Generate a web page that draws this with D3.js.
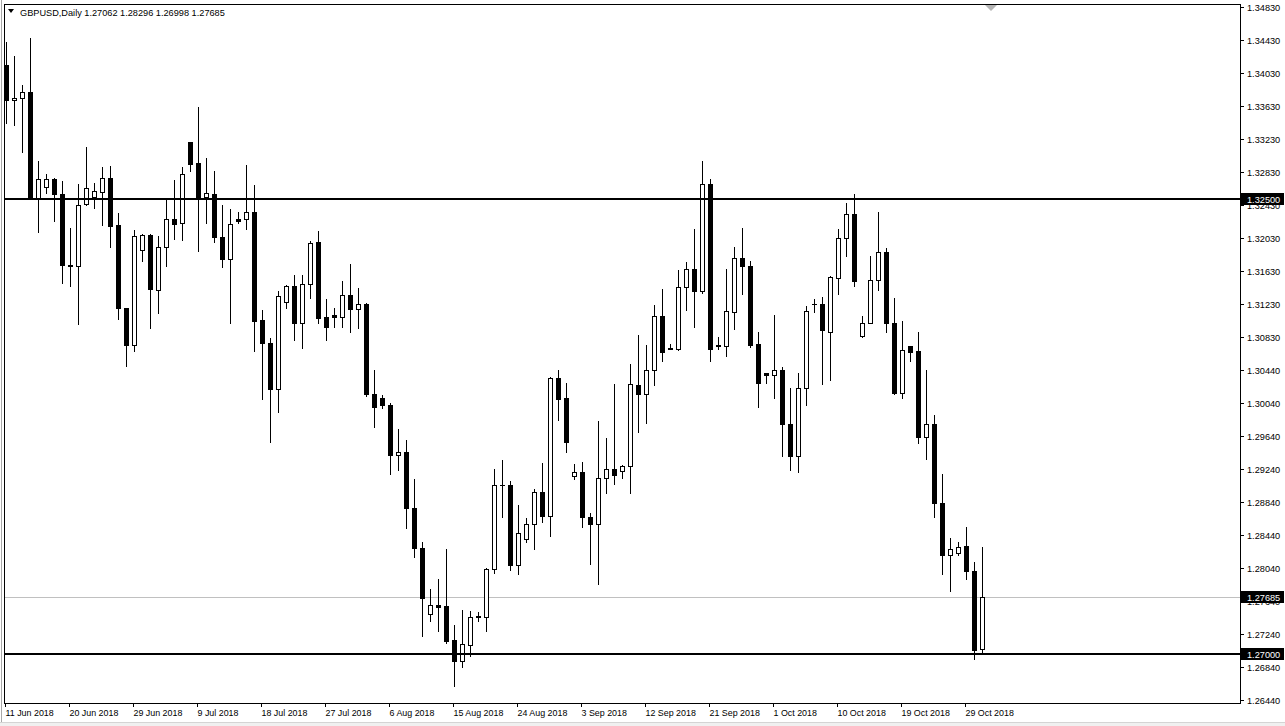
<!DOCTYPE html>
<html><head><meta charset="utf-8">
<script src="https://cdn.jsdelivr.net/npm/d3@7"></script>
<style>
html,body{margin:0;padding:0;background:#fff;}
svg{display:block;}
text{font-family:"Liberation Sans",Arial,sans-serif;}
</style></head><body>
<svg id="chart" width="1285" height="726"></svg>
<script>
const symbol = "GBPUSD,Daily";
const headerValues = [1.27062, 1.28296, 1.26998, 1.27685];
const dates = [
"2018-06-11","2018-06-12","2018-06-13","2018-06-14","2018-06-15","2018-06-17","2018-06-18","2018-06-19","2018-06-20","2018-06-21","2018-06-22","2018-06-24","2018-06-25","2018-06-26","2018-06-27","2018-06-28","2018-06-29",
"2018-07-01","2018-07-02","2018-07-03","2018-07-04","2018-07-05","2018-07-06","2018-07-08","2018-07-09","2018-07-10","2018-07-11","2018-07-12","2018-07-13","2018-07-15","2018-07-16","2018-07-17","2018-07-18","2018-07-19","2018-07-20","2018-07-22","2018-07-23","2018-07-24","2018-07-25","2018-07-26","2018-07-27","2018-07-29","2018-07-30","2018-07-31",
"2018-08-01","2018-08-02","2018-08-03","2018-08-05","2018-08-06","2018-08-07","2018-08-08","2018-08-09","2018-08-10","2018-08-12","2018-08-13","2018-08-14","2018-08-15","2018-08-16","2018-08-17","2018-08-19","2018-08-20","2018-08-21","2018-08-22","2018-08-23","2018-08-24","2018-08-26","2018-08-27","2018-08-28","2018-08-29","2018-08-30","2018-08-31",
"2018-09-02","2018-09-03","2018-09-04","2018-09-05","2018-09-06","2018-09-07","2018-09-09","2018-09-10","2018-09-11","2018-09-12","2018-09-13","2018-09-14","2018-09-16","2018-09-17","2018-09-18","2018-09-19","2018-09-20","2018-09-21","2018-09-23","2018-09-24","2018-09-25","2018-09-26","2018-09-27","2018-09-28","2018-09-30",
"2018-10-01","2018-10-02","2018-10-03","2018-10-04","2018-10-05","2018-10-07","2018-10-08","2018-10-09","2018-10-10","2018-10-11","2018-10-12","2018-10-14","2018-10-15","2018-10-16","2018-10-17","2018-10-18","2018-10-19","2018-10-21","2018-10-22","2018-10-23","2018-10-24","2018-10-25","2018-10-26","2018-10-28","2018-10-29","2018-10-30","2018-10-31"
];
const opens = [
1.3413,1.3370,1.3373,1.3380,1.3252,1.3265,1.3275,1.3256,1.3171,1.3170,1.3245,1.3253,1.3259,1.3276,1.3219,1.3118,1.3074,
1.3189,1.3207,1.3140,1.3192,1.3226,1.3221,1.3320,1.3294,1.3253,1.3256,1.3204,1.3178,1.3226,1.3226,1.3235,1.3104,1.3076,1.3021,1.3126,1.3145,1.3101,1.3148,1.3198,1.3108,1.3110,1.3108,1.3134,
1.3117,1.3124,1.3015,1.3010,1.3001,1.2941,1.2944,1.2877,1.2828,1.2748,1.2759,1.2758,1.2717,1.2691,1.2710,1.2746,1.2745,1.2802,1.2904,1.2904,1.2808,1.2839,1.2857,1.2896,1.2867,1.3034,1.3010,
1.2915,1.2920,1.2866,1.2857,1.2913,1.2924,1.2921,1.2927,1.3025,1.3014,1.3043,1.3109,1.3069,1.3069,1.3144,1.3166,1.3139,1.3269,1.3074,1.3072,1.3114,1.3179,1.3169,1.3075,1.3040,
1.3037,1.3043,1.2978,1.2939,1.3022,1.3123,1.3124,1.3090,1.3155,1.3203,1.3232,1.3085,1.3101,1.3152,1.3186,1.3100,1.3016,1.3072,1.3066,1.2963,1.2978,1.2883,1.2819,1.2822,1.2830,1.2800,1.27062
];
const highs = [
1.3441,1.3424,1.3389,1.3445,1.3297,1.3281,1.3276,1.3272,1.3215,1.3269,1.3314,1.3270,1.3289,1.3291,1.3233,1.3119,1.3213,
1.3208,1.3208,1.3206,1.3249,1.3274,1.3289,1.3320,1.3362,1.3300,1.3285,1.3243,1.3239,1.3235,1.3292,1.3268,1.3116,1.3082,1.3139,1.3147,1.3158,1.3159,1.3200,1.3212,1.3129,1.3119,1.3151,1.3172,
1.3143,1.3125,1.3043,1.3013,1.3003,1.2972,1.2959,1.2911,1.2835,1.2778,1.2791,1.2827,1.2735,1.2753,1.2752,1.2750,1.2804,1.2924,1.2935,1.2909,1.2880,1.2864,1.2900,1.2931,1.3035,1.3043,1.3028,
1.2930,1.2932,1.2870,1.2982,1.2961,1.3027,1.2929,1.3051,1.3086,1.3074,1.3122,1.3141,1.3075,1.3164,1.3174,1.3214,1.3297,1.3275,1.3083,1.3166,1.3193,1.3216,1.3176,1.3090,1.3040,
1.3110,1.3047,1.3022,1.3040,1.3121,1.3129,1.3132,1.3157,1.3214,1.3246,1.3257,1.3109,1.3181,1.3235,1.3191,1.3131,1.3103,1.3073,1.3089,1.3044,1.2989,1.2918,1.2840,1.2835,1.2853,1.2811,1.28296
];
const lows = [
1.3343,1.3340,1.3307,1.3250,1.3210,1.3258,1.3224,1.3149,1.3145,1.3099,1.3243,1.3240,1.3219,1.3192,1.3105,1.3048,1.3067,
1.3176,1.3094,1.3113,1.3169,1.3202,1.3201,1.3284,1.3187,1.3222,1.3198,1.3168,1.3101,1.3222,1.3214,1.3067,1.3008,1.2956,1.2993,1.3119,1.3080,1.3070,1.3131,1.3100,1.3080,1.3096,1.3096,1.3089,
1.3094,1.3012,1.2974,1.2997,1.2918,1.2922,1.2852,1.2817,1.2722,1.2740,1.2728,1.2713,1.2661,1.2684,1.2697,1.2740,1.2728,1.2798,1.2866,1.2801,1.2797,1.2835,1.2827,1.2860,1.2843,1.2983,1.2944,
1.2912,1.2854,1.2809,1.2784,1.2895,1.2906,1.2913,1.2895,1.2969,1.2979,1.3025,1.3055,1.3069,1.3068,1.3116,1.3096,1.3137,1.3054,1.3069,1.3061,1.3093,1.3136,1.3071,1.2999,1.3028,
1.3010,1.2940,1.2922,1.2920,1.3001,1.3114,1.3027,1.3031,1.3135,1.3181,1.3145,1.3084,1.3100,1.3140,1.3090,1.3014,1.3010,1.3054,1.2955,1.2936,1.2865,1.2797,1.2776,1.2820,1.2790,1.2694,1.26998
];
const closes = [
1.3370,1.3373,1.3380,1.3252,1.3275,1.3275,1.3256,1.3171,1.3170,1.3243,1.3264,1.3260,1.3276,1.3218,1.3118,1.3074,1.3206,
1.3207,1.3141,1.3192,1.3226,1.3220,1.3281,1.3293,1.3252,1.3258,1.3204,1.3178,1.3220,1.3224,1.3235,1.3103,1.3076,1.3021,1.3133,1.3145,1.3101,1.3148,1.3197,1.3107,1.3096,1.3108,1.3134,1.3117,
1.3123,1.3015,1.2999,1.3001,1.2941,1.2944,1.2876,1.2828,1.2768,1.2759,1.2757,1.2716,1.2691,1.2712,1.2745,1.2745,1.2803,1.2904,1.2904,1.2808,1.2846,1.2857,1.2896,1.2867,1.3034,1.3009,1.2956,
1.2920,1.2866,1.2857,1.2913,1.2924,1.2917,1.2927,1.3027,1.3014,1.3043,1.3109,1.3065,1.3070,1.3144,1.3166,1.3139,1.3269,1.3069,1.3072,1.3115,1.3179,1.3169,1.3074,1.3028,1.3037,
1.3043,1.2978,1.2939,1.3022,1.3115,1.3124,1.3092,1.3156,1.3203,1.3232,1.3151,1.3101,1.3152,1.3186,1.3100,1.3016,1.3068,1.3065,1.2963,1.2978,1.2883,1.2819,1.2827,1.2829,1.2800,1.2705,1.27685
];
const priceTicks = [1.34830,1.34430,1.34030,1.33630,1.33230,1.32830,1.32430,1.32030,1.31630,1.31230,1.30830,1.30440,1.30040,1.29640,1.29240,1.28840,1.28440,1.28040,1.27640,1.27240,1.26840,1.26440];
const dateTickDates = ["2018-06-11","2018-06-20","2018-06-29","2018-07-09","2018-07-18","2018-07-27","2018-08-06","2018-08-15","2018-08-24","2018-09-03","2018-09-12","2018-09-21","2018-10-01","2018-10-10","2018-10-19","2018-10-29"];
const dateTickLabels = ["11 Jun 2018","20 Jun 2018","29 Jun 2018","9 Jul 2018","18 Jul 2018","27 Jul 2018","6 Aug 2018","15 Aug 2018","24 Aug 2018","3 Sep 2018","12 Sep 2018","21 Sep 2018","1 Oct 2018","10 Oct 2018","19 Oct 2018","29 Oct 2018"];
const levels = [1.32500, 1.27000];
const lastPrice = 1.27685;

const svg = d3.select("#chart");
const W = 1285, H = 726;
const L = 4, R = 1240, T = 4, B = 703;
const FS = 9.2, FSD = 8.9;

const x = d3.scalePoint().domain(dates).range([6, 982]);
const y = d3.scaleLinear().domain([1.26440, 1.34830]).range([700, 7]);
const fmt = d3.format(".5f");

svg.append("rect").attr("x",0).attr("y",0).attr("width",W).attr("height",H).attr("fill","#fff");
// window edges
svg.append("rect").attr("x",0).attr("y",722).attr("width",W).attr("height",4).attr("fill","#f0f0f0");
svg.append("line").attr("x1",0).attr("x2",W).attr("y1",722.5).attr("y2",722.5).attr("stroke","#d4d4d4");
svg.append("line").attr("x1",1.5).attr("x2",1.5).attr("y1",0).attr("y2",722).attr("stroke","#a8a8a8");

svg.append("defs").append("clipPath").attr("id","plot")
  .append("rect").attr("x",L+1).attr("y",T+1).attr("width",R-L-1).attr("height",B-T-1);

const data = dates.map((d,i)=>({d, o:opens[i], h:highs[i], l:lows[i], c:closes[i]}));
const g = svg.append("g").attr("clip-path","url(#plot)");

// bid line
g.append("line").attr("x1",L).attr("x2",R).attr("y1",Math.round(y(lastPrice))+0.5).attr("y2",Math.round(y(lastPrice))+0.5)
  .attr("stroke","#c0c0c0").attr("stroke-width",1);

// wicks
g.selectAll("line.wick").data(data).enter().append("line").attr("class","wick")
  .attr("x1",d=>Math.round(x(d.d))+0.5).attr("x2",d=>Math.round(x(d.d))+0.5)
  .attr("y1",d=>Math.round(y(d.h))).attr("y2",d=>Math.round(y(d.l))+1)
  .attr("stroke","#000").attr("stroke-width",1);

// bodies
data.forEach(d=>{
  const cx = Math.round(x(d.d));
  const yt = Math.round(y(Math.max(d.o,d.c)));
  const yb = Math.round(y(Math.min(d.o,d.c)));
  const h = yb - yt;
  if (h < 2) {
    g.append("rect").attr("x",cx-2).attr("y",yt).attr("width",5).attr("height",Math.max(1,h+1)).attr("fill","#000");
  } else if (d.c >= d.o) {
    g.append("rect").attr("x",cx-1.5).attr("y",yt+0.5).attr("width",4).attr("height",h)
      .attr("fill","#fff").attr("stroke","#000").attr("stroke-width",1);
  } else {
    g.append("rect").attr("x",cx-2).attr("y",yt).attr("width",5).attr("height",h+1).attr("fill","#000");
  }
});

// level lines
levels.forEach(v=>{
  const yy = Math.round(y(v));
  g.append("line").attr("x1",L).attr("x2",R).attr("y1",yy).attr("y2",yy).attr("stroke","#000").attr("stroke-width",2);
});

// frame
svg.append("line").attr("x1",L+0.5).attr("x2",L+0.5).attr("y1",T).attr("y2",B+1).attr("stroke","#000");
svg.append("line").attr("x1",L).attr("x2",R+1).attr("y1",T+0.5).attr("y2",T+0.5).attr("stroke","#000");
svg.append("line").attr("x1",R+0.5).attr("x2",R+0.5).attr("y1",T).attr("y2",B+1).attr("stroke","#000");
svg.append("line").attr("x1",L).attr("x2",R+1).attr("y1",B+0.5).attr("y2",B+0.5).attr("stroke","#000");

// right axis ticks
const ra = svg.append("g");
priceTicks.forEach(v=>{
  const yy = Math.round(y(v))+0.5;
  ra.append("line").attr("x1",R).attr("x2",R+4).attr("y1",yy).attr("y2",yy).attr("stroke","#000");
  ra.append("text").attr("x",R+7).attr("y",yy).attr("dy","0.35em").attr("font-size",FS).attr("fill","#000").text(fmt(v));
});
// level boxes
levels.concat([lastPrice]).forEach(v=>{
  const yy = Math.round(y(v));
  ra.append("rect").attr("x",R+1).attr("y",yy-6).attr("width",43).attr("height",12).attr("fill","#000");
  ra.append("text").attr("x",R+7).attr("y",yy+0.5).attr("dy","0.35em").attr("font-size",FS).attr("fill","#fff").text(fmt(v));
});

// bottom axis
const ba = svg.append("g");
dateTickDates.forEach((d,i)=>{
  const xx = Math.round(x(d))-0.5;
  ba.append("line").attr("x1",xx).attr("x2",xx).attr("y1",B).attr("y2",B+4).attr("stroke","#000");
  ba.append("text").attr("x",xx).attr("y",B+13).attr("font-size",FSD).attr("fill","#000").text(dateTickLabels[i]);
});

// header
svg.append("path").attr("d","M8,9 L14,9 L11,13 Z").attr("fill","#000");
svg.append("text").attr("x",20).attr("y",16).attr("font-size",FS).attr("fill","#000")
  .text(symbol + "  " + headerValues.map(fmt).join(" "));
// shift marker
svg.append("path").attr("d","M985,5 L997,5 L991,11 Z").attr("fill","#b4b4b4");
</script>
</body></html>
